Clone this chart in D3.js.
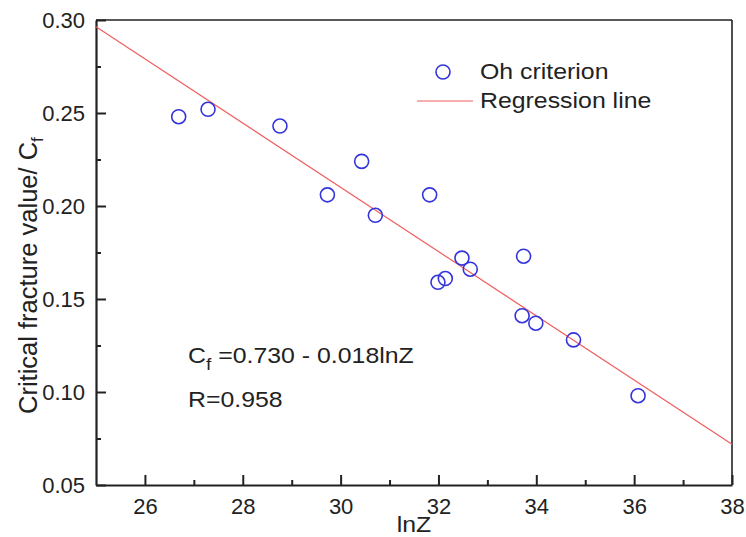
<!DOCTYPE html>
<html>
<head>
<meta charset="utf-8">
<script src="https://cdn.jsdelivr.net/npm/d3@7"></script>
<style>
  html, body { margin: 0; padding: 0; background: #fff; }
  svg { display: block; font-family: Arial, 'Liberation Sans', sans-serif; }
</style>
</head>
<body>
<div id="chart"></div>
<script>
//Datos
const lnZ = [26.69, 27.29, 28.76, 30.43, 29.73, 31.82, 30.71, 32.48, 32.65, 33.74, 32.14, 31.99, 33.71, 33.99, 34.76, 36.08];
const cf = [0.248, 0.252, 0.243, 0.224, 0.206, 0.206, 0.195, 0.172, 0.166, 0.173, 0.161, 0.159, 0.141, 0.137, 0.128, 0.098];
const lineX = [25, 38];
const lineY = [0.2964, 0.0719];
const xTicks = [26, 28, 30, 32, 34, 36, 38];
const xMinor = [27, 29, 31, 33, 35, 37];
const yTicks = [0.05, 0.10, 0.15, 0.20, 0.25, 0.30];
const yMinor = [0.075, 0.125, 0.175, 0.225, 0.275];
const legendLabels = ['Oh criterion', 'Regression line'];

//Colores
const COLOR_POINT = '#3434dc',
COLOR_LINE = '#ee5f5f',
COLOR_AXIS = '#222';
//Estiramiento horizontal del texto (la imagen original está algo ensanchada)
const STRETCH = 1.13;

let margin = {top: 20, right: 14, bottom: 52, left: 96},
    width = 746 - margin.left - margin.right,
    height = 537 - margin.top - margin.bottom;

let svg = d3.select('#chart')
    .append('svg')
        .attr('width', 746)
        .attr('height', 537)
    .append('g')
        .attr('transform', 'translate(' + margin.left + ',' + margin.top + ')');

let x = d3.scaleLinear().domain([25, 38]).range([0, width]);
let y = d3.scaleLinear().domain([0.05, 0.30]).range([height, 0]);

//Ejes
svg.append('g')
    .attr('transform', 'translate(0,' + height + ')')
    .call(d3.axisBottom(x).tickValues(xTicks).tickFormat(d3.format('d')).tickSizeInner(-10).tickSizeOuter(0).tickPadding(13));

svg.append('g')
    .attr('transform', 'translate(0,' + height + ')')
    .call(d3.axisBottom(x).tickValues(xMinor).tickFormat('').tickSizeInner(-5).tickSizeOuter(0))
    .call(function(g){ g.select('.domain').remove(); });

svg.append('g')
    .call(d3.axisLeft(y).tickValues(yTicks).tickFormat(d3.format('.2f')).tickSizeInner(-10).tickSizeOuter(0).tickPadding(11));

svg.append('g')
    .call(d3.axisLeft(y).tickValues(yMinor).tickFormat('').tickSizeInner(-5).tickSizeOuter(0))
    .call(function(g){ g.select('.domain').remove(); });

svg.selectAll('.tick line').attr('stroke', COLOR_AXIS).attr('stroke-width', 2);
svg.selectAll('.domain').attr('stroke', COLOR_AXIS).attr('stroke-width', 2.2);
svg.selectAll('.tick text')
    .attr('fill', '#222')
    .style('font-size', '22px')
    .style('font-family', "Arial, 'Liberation Sans', sans-serif");

//Marco superior y derecho
svg.append('line')
    .attr('x1', 0).attr('x2', width)
    .attr('y1', 0).attr('y2', 0)
    .attr('stroke', COLOR_AXIS).attr('stroke-width', 1.6);
svg.append('line')
    .attr('x1', width).attr('x2', width)
    .attr('y1', 0).attr('y2', height)
    .attr('stroke', COLOR_AXIS).attr('stroke-width', 1.6);

//Línea de regresión
svg.append('line')
    .attr('x1', x(lineX[0])).attr('y1', y(lineY[0]))
    .attr('x2', x(lineX[1])).attr('y2', y(lineY[1]))
    .attr('stroke', COLOR_LINE)
    .attr('stroke-width', 1.2);

//Puntos
svg.selectAll('circle.pt')
    .data(lnZ)
    .enter()
    .append('circle')
    .attr('class', 'pt')
    .attr('cx', function(d) { return x(d); })
    .attr('cy', function(d, i) { return y(cf[i]); })
    .attr('r', 7)
    .attr('fill', 'none')
    .attr('stroke', COLOR_POINT)
    .attr('stroke-width', 1.6);

//Leyenda
let legend = svg.append('g').attr('transform', 'translate(' + (443 - margin.left) + ',' + (72 - margin.top) + ')');
legend.append('circle')
    .attr('cx', 0).attr('cy', 0).attr('r', 7)
    .attr('fill', 'none').attr('stroke', COLOR_POINT).attr('stroke-width', 1.6);
legend.append('line')
    .attr('x1', -26).attr('x2', 30)
    .attr('y1', 29).attr('y2', 29)
    .attr('stroke', COLOR_LINE).attr('stroke-width', 1.2);
legend.selectAll('text')
    .data(legendLabels)
    .enter()
    .append('text')
    .attr('transform', function(d, i) { return 'translate(37,' + (7 + i * 29) + ') scale(' + STRETCH + ',1)'; })
    .attr('fill', '#222')
    .style('font-size', '22px')
    .text(function(d) { return d; });

//Ecuación
let eq = svg.append('text')
    .attr('transform', 'translate(' + (188 - margin.left) + ',' + (363 - margin.top) + ') scale(' + STRETCH + ',1)')
    .attr('fill', '#222')
    .style('font-size', '22px');
eq.append('tspan').text('C');
eq.append('tspan').attr('dy', 7).style('font-size', '17px').text('f');
eq.append('tspan').attr('dy', -7).text(' =0.730 - 0.018lnZ');

svg.append('text')
    .attr('transform', 'translate(' + (188 - margin.left) + ',' + (407 - margin.top) + ') scale(' + STRETCH + ',1)')
    .attr('fill', '#222')
    .style('font-size', '22px')
    .text('R=0.958');

//Títulos de los ejes
svg.append('text')
    .attr('transform', 'translate(' + (width / 2) + ',' + (532 - margin.top) + ') scale(' + STRETCH + ',1)')
    .attr('text-anchor', 'middle')
    .attr('fill', '#222')
    .style('font-size', '22px')
    .text('lnZ');

let yTitle = svg.append('text')
    .attr('transform', 'translate(' + (37 - margin.left) + ',' + (414 - margin.top) + ') rotate(-90)')
    .attr('fill', '#222')
    .style('font-size', '25.5px');
yTitle.append('tspan').text('Critical fracture value/ C');
yTitle.append('tspan').attr('dy', 6).style('font-size', '17px').text('f');
</script>
</body>
</html>
